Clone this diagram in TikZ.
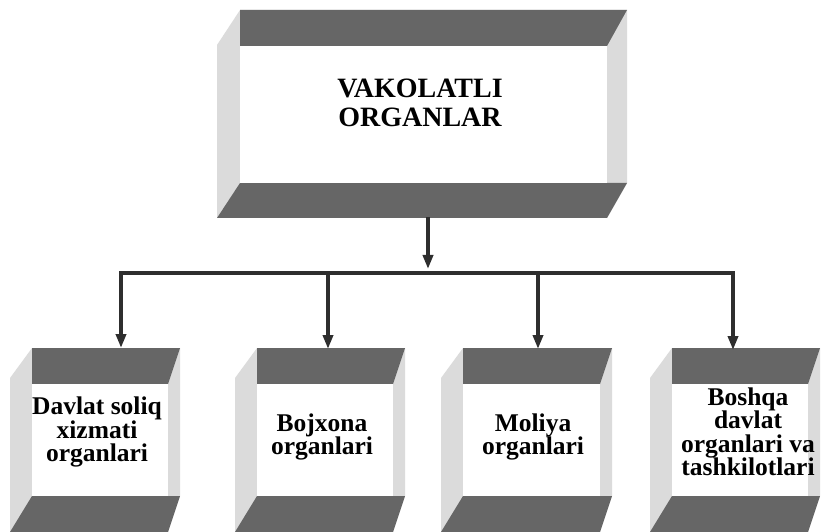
\documentclass[tikz,border=0pt]{standalone}
\usepackage{fontspec}
\setmainfont{Liberation Serif}
\usetikzlibrary{arrows.meta}
\definecolor{bandgray}{gray}{0.40}
\definecolor{sidegray}{gray}{0.86}
\definecolor{linegray}{gray}{0.18}

\tikzset{
  boxtext/.style={align=center, inner sep=0pt, font=\bfseries\fontsize{25.5}{23.5}\selectfont},
  link/.style={draw=linegray, line width=3.5pt},
  linkarrow/.style={link, -{Triangle[length=14pt,width=10pt]}}
}

\begin{document}
\begin{tikzpicture}[x=1pt,y=-1pt]
\useasboundingbox (0,0) rectangle (823,532);
% top box
\fill[sidegray] (240,10) -- (627,10) -- (627,183) -- (607,218) -- (217,218) -- (217,45) -- cycle;
\fill[bandgray] (240,10) -- (627,10) -- (607,46) -- (240,46) -- cycle;
\fill[bandgray] (240,183) -- (627,183) -- (607,218) -- (217,218) -- cycle;
\fill[white]    (240,46) rectangle (607,183);
\node[boxtext, font=\bfseries\fontsize{28}{29}\selectfont] (vakolatli) at (420,103) {VAKOLATLI\\ORGANLAR};

% lower boxes
\foreach \L/\R in {32/168, 257/393, 463/600, 672/808} {
  \fill[sidegray] (\L,348) -- (\R+12,348) -- (\R+12,496) -- (\R,532) -- (\L-22,532) -- (\L-22,378) -- cycle;
  \fill[bandgray] (\L,348) -- (\R+12,348) -- (\R,384) -- (\L,384) -- cycle;
  \fill[bandgray] (\L,496) -- (\R+12,496) -- (\R,532) -- (\L-22,532) -- cycle;
  \fill[white]    (\L,384) rectangle (\R,496);
}
\node[boxtext] (soliq)   at (97,432)  {Davlat soliq\\xizmati\\organlari};
\node[boxtext] (bojxona) at (322,437) {Bojxona\\organlari};
\node[boxtext] (moliya)  at (533,437) {Moliya\\organlari};
\node[boxtext] (boshqa)  at (748,432) {Boshqa\\davlat\\organlari va\\tashkilotlari};

% connectors
\coordinate (vakolatli-out) at (428,217);
\coordinate (hub)           at (428,273);
\coordinate (soliq-top)     at (121,348);
\coordinate (bojxona-top)   at (328,349);
\coordinate (moliya-top)    at (538,349);
\coordinate (boshqa-top)    at (733,350);
\draw[linkarrow, shorten >=4pt] (vakolatli-out) -- (hub);
\draw[linkarrow] (hub) -| (soliq-top);
\draw[linkarrow] (hub) -| (boshqa-top);
\draw[linkarrow] (bojxona-top |- hub) -- (bojxona-top);
\draw[linkarrow] (moliya-top |- hub) -- (moliya-top);
\end{tikzpicture}
\end{document}
